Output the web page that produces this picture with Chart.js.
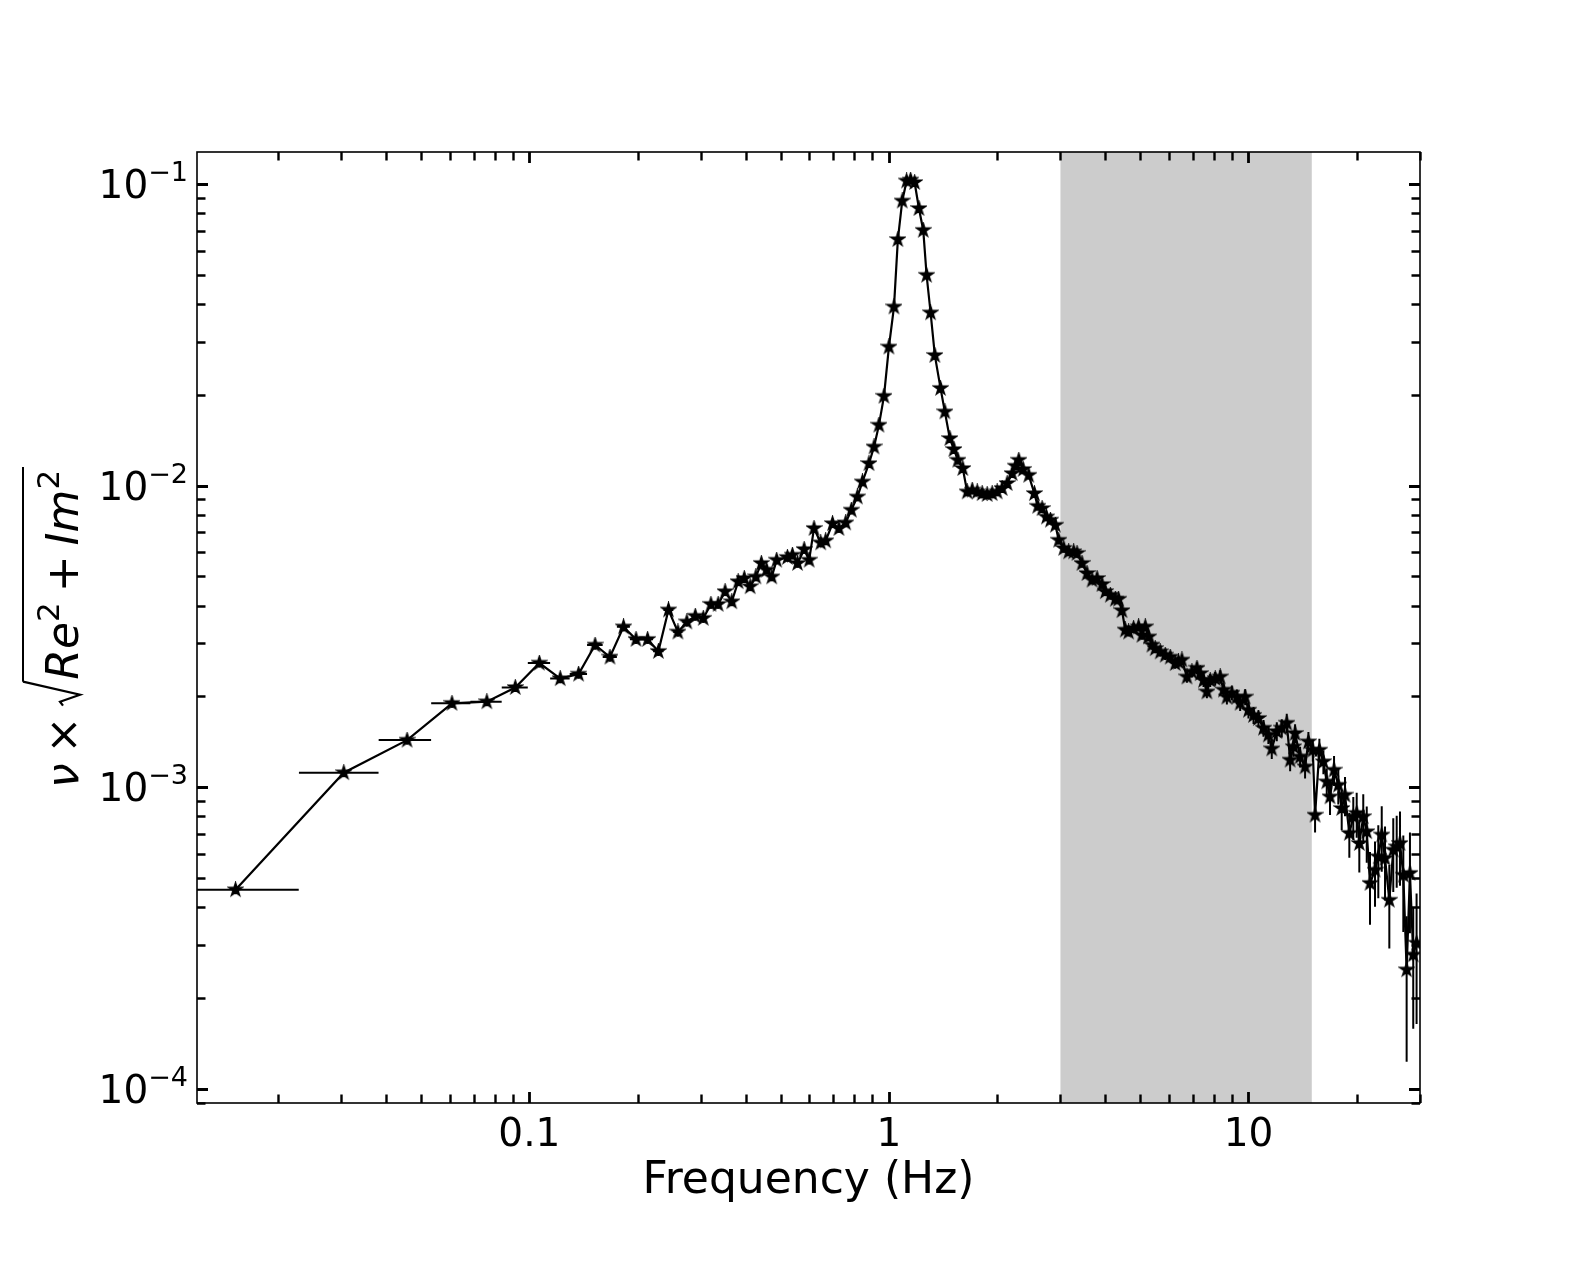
<!DOCTYPE html>
<html>
<head>
<meta charset="utf-8">
<script src="https://cdn.jsdelivr.net/npm/chart.js@4.4.1/dist/chart.umd.min.js"></script>
<style>
  html, body { margin: 0; padding: 0; background: #fff; }
  #psd { display: block; }
</style>
</head>
<body>
<canvas id="psd" width="1578" height="1262"></canvas>
<script>
// frequencies (Hz)
const freq = [
  0.01523, 0.03046, 0.04569, 0.06092, 0.07615, 0.09138, 0.10661, 0.12184,
  0.13707, 0.1523, 0.16753, 0.18276, 0.19799, 0.21322, 0.22845, 0.24368,
  0.25891, 0.27414, 0.28937, 0.3046, 0.31983, 0.33506, 0.35029, 0.36552,
  0.38075, 0.39598, 0.41121, 0.42644, 0.44167, 0.4569, 0.47213, 0.48736,
  0.522, 0.539, 0.557, 0.581, 0.600, 0.619, 0.646, 0.667, 0.697, 0.726, 0.758, 0.786,
  0.817, 0.844, 0.880, 0.909, 0.938, 0.969, 1.000, 1.033, 1.059, 1.089, 1.120, 1.149,
  1.179, 1.212, 1.246, 1.273, 1.306, 1.342, 1.392, 1.431, 1.477, 1.516, 1.555, 1.605,
  1.651, 1.705, 1.760, 1.817, 1.876, 1.937, 2.000, 2.065, 2.132, 2.202, 2.250, 2.297,
  2.362, 2.448, 2.539, 2.593, 2.667, 2.743, 2.813, 2.905, 2.967, 3.063, 3.162, 3.265,
  3.336, 3.445, 3.557, 3.673, 3.793, 3.915, 3.999, 4.129, 4.263, 4.354, 4.449, 4.544,
  4.642, 4.793, 4.948, 5.057, 5.165, 5.275, 5.391, 5.505, 5.684, 5.869, 6.060, 6.257,
  6.391, 6.531, 6.744, 6.963, 7.190, 7.342, 7.499, 7.663, 7.827, 8.082, 8.345, 8.523,
  8.710, 8.994, 9.287, 9.482, 9.790, 10.00, 10.33, 10.66, 11.01, 11.36, 11.61, 11.99,
  12.38, 12.78, 13.06, 13.34, 13.48, 13.92, 14.37, 14.68, 15.10, 15.32, 15.75, 16.16,
  16.51, 16.86, 17.30, 17.78, 18.17, 18.56, 19.08, 19.57, 20.00, 20.34, 20.86, 21.33,
  21.78, 22.49, 22.97, 23.48, 23.98, 24.65, 25.28, 25.84, 26.39, 26.96, 27.54, 28.13,
  28.73, 29.35
];

// nu * sqrt(Re^2 + Im^2)
const power = [
  4.57e-4, 1.117e-3, 1.432e-3, 1.897e-3, 1.92e-3, 2.14e-3, 2.58e-3, 2.29e-3,
  2.37e-3, 2.96e-3, 2.70e-3, 3.40e-3, 3.09e-3, 3.09e-3, 2.82e-3, 3.87e-3,
  3.27e-3, 3.53e-3, 3.69e-3, 3.63e-3, 4.04e-3, 4.04e-3, 4.45e-3, 4.12e-3,
  4.80e-3, 4.92e-3, 4.62e-3, 4.98e-3, 5.52e-3, 5.25e-3, 4.98e-3, 5.66e-3,
  5.78e-3, 5.88e-3, 5.52e-3, 6.14e-3, 5.66e-3, 7.21e-3, 6.46e-3, 6.56e-3, 7.48e-3, 7.21e-3, 7.52e-3, 8.29e-3,
  9.17e-3, 1.028e-2, 1.183e-2, 1.343e-2, 1.586e-2, 1.978e-2, 2.88e-2, 3.91e-2, 6.54e-2, 8.78e-2, 0.1023, 0.1030,
  0.1011, 8.29e-2, 7.02e-2, 4.98e-2, 3.74e-2, 2.70e-2, 2.10e-2, 1.755e-2, 1.432e-2, 1.317e-2, 1.214e-2, 1.139e-2,
  9.53e-3, 9.66e-3, 9.53e-3, 9.41e-3, 9.34e-3, 9.41e-3, 9.53e-3, 9.78e-3, 1.016e-2, 1.096e-2, 1.16e-2, 1.214e-2,
  1.131e-2, 1.082e-2, 9.41e-3, 8.54e-3, 8.39e-3, 7.87e-3, 7.68e-3, 7.39e-3, 6.59e-3, 6.19e-3, 6.03e-3, 6.03e-3,
  5.96e-3, 5.52e-3, 5.11e-3, 4.86e-3, 4.92e-3, 4.70e-3, 4.45e-3, 4.33e-3, 4.20e-3, 4.20e-3, 3.85e-3, 3.32e-3,
  3.27e-3, 3.36e-3, 3.40e-3, 3.19e-3, 3.40e-3, 3.15e-3, 2.96e-3, 2.88e-3, 2.81e-3, 2.74e-3, 2.70e-3, 2.57e-3,
  2.60e-3, 2.64e-3, 2.32e-3, 2.41e-3, 2.48e-3, 2.38e-3, 2.26e-3, 2.07e-3, 2.26e-3, 2.29e-3, 2.32e-3, 2.10e-3,
  1.99e-3, 2.05e-3, 1.99e-3, 1.90e-3, 1.99e-3, 1.80e-3, 1.73e-3, 1.69e-3, 1.57e-3, 1.49e-3, 1.34e-3, 1.53e-3,
  1.57e-3, 1.63e-3, 1.23e-3, 1.361e-3, 1.507e-3, 1.261e-3, 1.168e-3, 1.414e-3, 1.327e-3, 8.08e-4, 1.327e-3, 1.214e-3,
  1.042e-3, 9.29e-4, 1.139e-3, 1.016e-3, 8.50e-4, 9.41e-4, 7.03e-4, 7.98e-4, 8.19e-4, 6.51e-4, 7.98e-4, 7.12e-4,
  4.80e-4, 5.31e-4, 5.88e-4, 6.94e-4, 5.81e-4, 4.22e-4, 6.19e-4, 6.34e-4, 6.51e-4, 5.11e-4, 2.48e-4, 5.18e-4,
  2.78e-4, 3.04e-4
];

// 1-sigma errors on power
const yErr = [
  1.5e-5, 3.5e-5, 4.5e-5, 6e-5, 6e-5, 7e-5, 8e-5, 8e-5,
  8e-5, 1.0e-4, 9e-5, 1.1e-4, 1.0e-4, 1.0e-4, 1.0e-4, 1.3e-4,
  1.1e-4, 1.2e-4, 1.2e-4, 1.2e-4, 1.3e-4, 1.3e-4, 1.4e-4, 1.3e-4,
  1.5e-4, 1.5e-4, 1.4e-4, 1.5e-4, 1.7e-4, 1.6e-4, 1.5e-4, 1.7e-4,
  1.7e-4, 1.7e-4, 1.6e-4, 1.8e-4, 1.7e-4, 2.1e-4, 1.9e-4, 1.9e-4, 2.2e-4, 2.1e-4, 2.2e-4, 2.4e-4,
  2.6e-4, 2.9e-4, 3.2e-4, 3.6e-4, 4.2e-4, 5.2e-4, 7.4e-4, 1.0e-3, 1.6e-3, 2.1e-3, 2.4e-3, 2.4e-3,
  2.4e-3, 2.0e-3, 1.7e-3, 1.2e-3, 9e-4, 6.6e-4, 5.2e-4, 4.4e-4, 3.6e-4, 3.3e-4, 3.1e-4, 2.9e-4,
  2.5e-4, 2.5e-4, 2.5e-4, 2.5e-4, 2.5e-4, 2.5e-4, 2.5e-4, 2.6e-4, 2.7e-4, 2.9e-4, 3.0e-4, 3.1e-4,
  2.9e-4, 2.8e-4, 2.5e-4, 2.3e-4, 2.2e-4, 2.1e-4, 2.0e-4, 1.9e-4, 1.8e-4, 1.7e-4, 1.6e-4, 1.6e-4,
  1.6e-4, 1.5e-4, 1.4e-4, 1.3e-4, 1.4e-4, 1.3e-4, 1.3e-4, 1.3e-4, 1.2e-4, 1.2e-4, 1.2e-4, 1.0e-4,
  1.0e-4, 1.0e-4, 1.1e-4, 1.0e-4, 1.1e-4, 1.0e-4, 1.0e-4, 1.0e-4, 1.0e-4, 1.0e-4, 1.0e-4, 1.0e-4,
  1.0e-4, 1.0e-4, 1.0e-4, 1.0e-4, 1.1e-4, 1.1e-4, 1.1e-4, 1.0e-4, 1.1e-4, 1.2e-4, 1.2e-4, 1.1e-4,
  1.1e-4, 1.1e-4, 1.1e-4, 1.1e-4, 1.2e-4, 1.1e-4, 1.1e-4, 1.1e-4, 1.0e-4, 1.0e-4, 1.0e-4, 1.1e-4,
  1.1e-4, 1.2e-4, 1.0e-4, 1.0e-4, 1.1e-4, 1.0e-4, 1.0e-4, 1.1e-4, 1.1e-4, 1.0e-4, 1.2e-4, 1.1e-4,
  1.1e-4, 1.2e-4, 1.3e-4, 1.4e-4, 1.3e-4, 1.4e-4, 1.2e-4, 1.3e-4, 1.4e-4, 1.3e-4, 1.5e-4, 1.5e-4,
  1.3e-4, 1.3e-4, 1.6e-4, 1.7e-4, 1.6e-4, 1.3e-4, 1.7e-4, 1.7e-4, 1.8e-4, 1.8e-4, 1.25e-4, 1.9e-4,
  1.2e-4, 1.4e-4
];

// half bin widths (Hz) of the unbinned low-frequency points, rest are narrower than the marker
const xErr = [
  0.0076, 0.0076, 0.0076, 0.0076, 0.0076, 0.0076, 0.0076, 0.0076,
  0.0076, 0.0076, 0.0076, 0.0076, 0.0076, 0.0076, 0.0076, 0.0076,
  0.0076, 0.0076, 0.0076, 0.0076, 0.0076, 0.0076, 0.0076, 0.0076,
  0.0076, 0.0076, 0.0076, 0.0076, 0.0076, 0.0076, 0.0076, 0.0076
];

const shadeBand = [3, 15];
const xMajor = [0.1, 1, 10];
const xMajorLabels = ['0.1', '1', '10'];
const yMajorExp = [-1, -2, -3, -4];

const FONT = '"DejaVu Sans", "Liberation Sans", sans-serif';
const TICK_PX = 39, SUP_PX = 27, LABEL_PX = 44;

// filled star marker like matplotlib '*'
function makeStar(r) {
  const c = document.createElement('canvas');
  const s = Math.ceil(r * 2 + 4);
  c.width = s; c.height = s;
  const g = c.getContext('2d');
  g.translate(s / 2, s / 2);
  g.beginPath();
  for (let i = 0; i < 10; i++) {
    const rad = i % 2 === 0 ? r : r * 0.382;
    const a = -Math.PI / 2 + i * Math.PI / 5;
    const px = rad * Math.cos(a), py = rad * Math.sin(a);
    if (i === 0) g.moveTo(px, py); else g.lineTo(px, py);
  }
  g.closePath();
  g.fillStyle = '#000';
  g.fill();
  g.lineWidth = 1.8;
  g.lineJoin = 'miter';
  g.strokeStyle = '#000';
  g.stroke();
  return c;
}
const star = makeStar(6.4);

function minorsBetween(lo, hi) {
  const out = [];
  for (let e = Math.floor(Math.log10(lo)); e <= Math.ceil(Math.log10(hi)); e++) {
    for (let m = 2; m <= 9; m++) {
      const v = m * Math.pow(10, e);
      if (v >= lo && v <= hi) out.push(v);
    }
  }
  return out;
}

function drawYLabel(ctx, bx, cy) {
  const reg = `${LABEL_PX}px ${FONT}`;
  const ital = `italic ${LABEL_PX}px ${FONT}`;
  const sup = `${Math.round(LABEL_PX * 0.7)}px ${FONT}`;
  const gap = 10, radW = 27, supRise = 19;
  const parts = [
    { t: '\u03bd', f: ital }, { gap }, { t: '\u00d7', f: reg }, { gap },
    { rad: true },
    { t: 'Re', f: ital }, { t: '2', f: sup, up: supRise }, { gap },
    { t: '+', f: reg }, { gap },
    { t: 'Im', f: ital }, { t: '2', f: sup, up: supRise }, { gap: 3 }
  ];
  ctx.save();
  let total = 0;
  parts.forEach(p => {
    if (p.gap !== undefined) p.w = p.gap;
    else if (p.rad) p.w = radW;
    else { ctx.font = p.f; p.w = ctx.measureText(p.t).width; }
    total += p.w;
  });
  ctx.translate(bx, cy);
  ctx.rotate(-Math.PI / 2);
  ctx.fillStyle = '#000';
  ctx.strokeStyle = '#000';
  ctx.textBaseline = 'alphabetic';
  ctx.textAlign = 'left';
  let u = -total / 2;
  let radStart = null;
  parts.forEach(p => {
    if (p.rad) {
      radStart = u;
      ctx.lineWidth = 2.2;
      ctx.lineJoin = 'miter';
      ctx.beginPath();
      ctx.moveTo(u + 1, -15);
      ctx.lineTo(u + 5, -18);
      ctx.lineTo(u + 12, 2);
      ctx.lineTo(u + 25, -55);
      ctx.stroke();
    } else if (p.t) {
      ctx.font = p.f;
      ctx.fillText(p.t, u, -(p.up || 0));
    }
    u += p.w;
  });
  ctx.lineWidth = 2;
  ctx.beginPath();
  ctx.moveTo(radStart + 25, -55);
  ctx.lineTo(u, -55);
  ctx.stroke();
  ctx.restore();
}

const frame = {
  id: 'frame',
  beforeDatasetsDraw(chart) {
    const { ctx, chartArea: a, scales: { x, y } } = chart;
    ctx.save();
    const x0 = x.getPixelForValue(shadeBand[0]);
    const x1 = x.getPixelForValue(shadeBand[1]);
    ctx.fillStyle = '#cccccc';
    ctx.fillRect(x0, a.top, x1 - x0, a.bottom - a.top);

    // error bars
    ctx.beginPath();
    ctx.rect(a.left, a.top, a.right - a.left, a.bottom - a.top);
    ctx.clip();
    ctx.strokeStyle = '#000';
    ctx.lineWidth = 2;
    ctx.beginPath();
    freq.forEach((f, i) => {
      const px = x.getPixelForValue(f), py = y.getPixelForValue(power[i]);
      const dx = xErr[i] || 0, dy = yErr[i] || 0;
      if (dx > 0) {
        ctx.moveTo(x.getPixelForValue(Math.max(f - dx, 1e-4)), py);
        ctx.lineTo(x.getPixelForValue(f + dx), py);
      }
      if (dy > 0) {
        ctx.moveTo(px, y.getPixelForValue(power[i] + dy));
        ctx.lineTo(px, y.getPixelForValue(Math.max(power[i] - dy, 1e-6)));
      }
    });
    ctx.stroke();
    ctx.restore();
  },
  afterDraw(chart) {
    const { ctx, chartArea: a, scales: { x, y } } = chart;
    ctx.save();
    ctx.strokeStyle = '#000';
    ctx.fillStyle = '#000';

    // ticks pointing inwards on all four sides
    const tick = (vals, axis, len, w) => {
      ctx.lineWidth = w;
      ctx.beginPath();
      vals.forEach(v => {
        if (axis === 'x') {
          const p = Math.round(x.getPixelForValue(v)) + 0.5;
          ctx.moveTo(p, a.bottom); ctx.lineTo(p, a.bottom - len);
          ctx.moveTo(p, a.top); ctx.lineTo(p, a.top + len);
        } else {
          const p = Math.round(y.getPixelForValue(v)) + 0.5;
          ctx.moveTo(a.left, p); ctx.lineTo(a.left + len, p);
          ctx.moveTo(a.right, p); ctx.lineTo(a.right - len, p);
        }
      });
      ctx.stroke();
    };
    tick(minorsBetween(x.min, x.max), 'x', 8.5, 2.4);
    tick(xMajor, 'x', 11, 2.8);
    tick(minorsBetween(y.min, y.max), 'y', 8.5, 2.4);
    tick(yMajorExp.map(e => Math.pow(10, e)), 'y', 11, 2.8);

    // frame
    ctx.lineWidth = 1.6;
    ctx.strokeRect(a.left, a.top, a.right - a.left, a.bottom - a.top);

    // x tick labels
    ctx.font = `${TICK_PX}px ${FONT}`;
    ctx.textAlign = 'center';
    ctx.textBaseline = 'alphabetic';
    xMajor.forEach((v, i) => {
      ctx.fillText(xMajorLabels[i], x.getPixelForValue(v), a.bottom + 43);
    });

    // y tick labels 10^n
    ctx.textAlign = 'left';
    yMajorExp.forEach(e => {
      const py = y.getPixelForValue(Math.pow(10, e));
      const base = '10', sup = '\u2212' + Math.abs(e);
      ctx.font = `${TICK_PX}px ${FONT}`;
      const wb = ctx.measureText(base).width;
      ctx.font = `${SUP_PX}px ${FONT}`;
      const ws = ctx.measureText(sup).width;
      const x0 = a.left - 9 - wb - ws;
      ctx.font = `${TICK_PX}px ${FONT}`;
      ctx.fillText(base, x0, py + 14);
      ctx.font = `${SUP_PX}px ${FONT}`;
      ctx.fillText(sup, x0 + wb, py + 14 - 17);
    });

    // axis labels
    ctx.font = `${LABEL_PX}px ${FONT}`;
    ctx.textAlign = 'center';
    ctx.fillText('Frequency (Hz)', (a.left + a.right) / 2, 1193);
    drawYLabel(ctx, 78, (a.top + a.bottom) / 2);
    ctx.restore();
  }
};

const points = freq.map((f, i) => ({ x: f, y: power[i] }));

new Chart(document.getElementById('psd'), {
  type: 'scatter',
  data: {
    datasets: [{
      data: points,
      showLine: true,
      borderColor: '#000',
      backgroundColor: '#000',
      borderWidth: 2.2,
      pointStyle: star,
      pointRadius: 6,
      pointHoverRadius: 6,
      tension: 0
    }]
  },
  options: {
    responsive: false,
    animation: false,
    devicePixelRatio: 1,
    events: [],
    layout: { padding: { left: 197, top: 152, right: 158, bottom: 159 } },
    plugins: { legend: { display: false }, tooltip: { enabled: false } },
    scales: {
      x: { type: 'logarithmic', min: 0.0119, max: 30, display: false },
      y: { type: 'logarithmic', min: 8.97e-5, max: 0.1276, display: false }
    }
  },
  plugins: [frame]
});
</script>
</body>
</html>
